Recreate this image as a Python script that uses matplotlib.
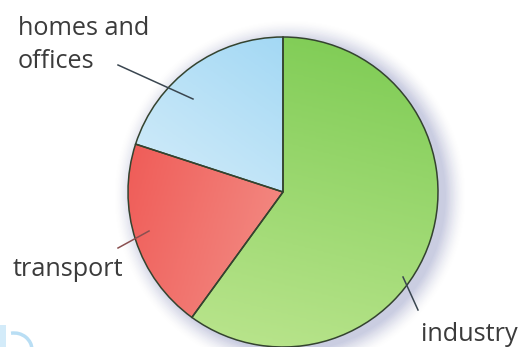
import numpy as np
import matplotlib
matplotlib.use("Agg")
import matplotlib.pyplot as plt
from matplotlib.colors import LinearSegmentedColormap
from matplotlib.patches import Arc

labels = ["industry", "transport", "homes and\noffices"]
values = [60, 20, 20]
colors_a = ["#7ccb52", "#ef5450", "#8fd0f2"]   # gradient start
colors_b = ["#bde690", "#f6b8ae", "#f2f9fd"]   # gradient end

W, H = 520, 347
fig = plt.figure(figsize=(W / 100, H / 100), dpi=100)
ax = fig.add_axes([0, 0, 1, 1])
cx, cy, R = 283, 155, 155

# soft shadow on the right
n = 16
for i in range(n):
    a = 0.06 * (1 - i / n)
    sh = plt.Circle((cx + 7, cy - 4), R + 1 + i * 1.3, color="#8f96c8",
                    alpha=a, lw=0, zorder=0)
    ax.add_patch(sh)

wedges, _ = ax.pie(values, center=(cx, cy), radius=R, startangle=90,
                   counterclock=False,
                   wedgeprops=dict(facecolor="none", edgecolor="#34432f", linewidth=1.1))
for w in wedges:
    w.set_zorder(3)

# gradient fills (u: left->right, v: bottom->top)
vv, uu = np.mgrid[0:1:200j, 0:1:200j]
dirs = [(-0.25, -1.0), (1.0, -0.3), (-0.7, -1.0)]
for w, ca, cb, (dx, dy) in zip(wedges, colors_a, colors_b, dirs):
    t = uu * dx + vv * dy
    t = (t - t.min()) / (t.max() - t.min())
    cmap = LinearSegmentedColormap.from_list("g", [ca, cb])
    im = ax.imshow(t, cmap=cmap, extent=(cx - R, cx + R, cy - R, cy + R),
                   origin="lower", zorder=2, interpolation="bilinear")
    im.set_clip_path(w)

# faint blue decoration at bottom-left corner
ax.add_patch(Arc((14, -3), 36, 34, theta1=0, theta2=100, color="#a8d6f2",
                 lw=2.5, alpha=0.8, zorder=1))
ax.add_patch(plt.Rectangle((0, 0), 6, 22, color="#c9e6f8", lw=0, alpha=0.8, zorder=1))

ax.set_xlim(0, W)
ax.set_ylim(0, H)
ax.set_aspect("auto")
ax.axis("off")

tc = "#3b3b3b"
fp = dict(family="Open Sans", fontsize=18.2, color=tc)
ax.text(18, H - 35, "homes and", ha="left", va="baseline", **fp)
ax.text(18, H - 68, "offices", ha="left", va="baseline", **fp)
ax.text(13, H - 276, labels[1], ha="left", va="baseline", **fp)
ax.text(421, H - 341, labels[0], ha="left", va="baseline", **fp)

lc = "#3a4650"
ax.plot([118, 193], [H - 65, H - 99], color=lc, lw=1.1, zorder=5)
ax.plot([118, 149], [H - 248, H - 231], color="#8a5050", lw=1.1, zorder=5)
ax.plot([403, 418], [H - 277, H - 310], color=lc, lw=1.1, zorder=5)

fig.savefig("out.png", dpi=100)
